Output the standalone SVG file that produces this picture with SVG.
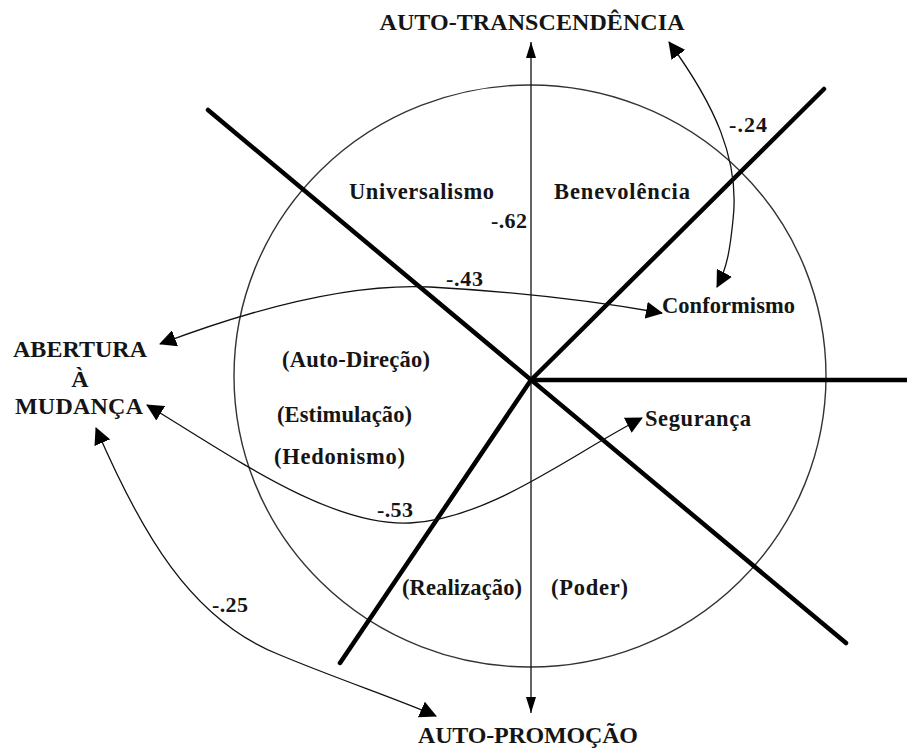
<svg xmlns="http://www.w3.org/2000/svg" width="907" height="749" viewBox="0 0 907 749">
<style>
.t{font-family:"Liberation Serif","Times New Roman",serif;font-weight:bold;fill:#151515}
.big{font-size:24px}
.lab{font-size:22.5px}
.num{font-size:22px}
.thick{stroke:#000;stroke-width:4.5;stroke-linecap:round;fill:none}
.thin{stroke:#111;stroke-width:1.3;fill:none}
</style>
<defs>
<marker id="ah" markerUnits="userSpaceOnUse" viewBox="0 0 17 17" markerWidth="17" markerHeight="17" refX="16" refY="8.5" orient="auto-start-reverse">
<path d="M0,0 L17,8.5 L0,17 z" fill="#000"/>
</marker>
<marker id="ax" markerUnits="userSpaceOnUse" viewBox="0 0 16 10" markerWidth="16" markerHeight="10" refX="16" refY="5" orient="auto-start-reverse">
<path d="M0,0 L16,5 L0,10 z" fill="#000"/>
</marker>
</defs>
<rect width="907" height="749" fill="#fff"/>
<g id="circle">
<ellipse cx="530" cy="376" rx="296" ry="291" fill="none" stroke="#333" stroke-width="1.4"/>
</g>
<g id="axes">
<line class="thin" x1="531" y1="42" x2="531" y2="713" marker-start="url(#ax)" marker-end="url(#ax)"/>
<line class="thick" x1="208" y1="110" x2="846" y2="643"/>
<line class="thick" x1="824" y1="89" x2="531" y2="380"/>
<line class="thick" x1="531" y1="380" x2="340" y2="663"/>
<line class="thick" x1="531" y1="380" x2="907" y2="380"/>
</g>
<g id="connectors">
<path class="thin" d="M669,42 C715,105 740,160 733,220 C730,250 727,268 717,287" marker-start="url(#ah)" marker-end="url(#ah)"/>
<path class="thin" d="M160,344 C250,310 350,283 430,287 C520,292 600,302 662,313" marker-start="url(#ah)" marker-end="url(#ah)"/>
<path class="thin" d="M147,405 C230,455 330,527 410,523 C490,519 570,455 642,418" marker-start="url(#ah)" marker-end="url(#ah)"/>
<path class="thin" d="M96,428 C140,530 190,620 280,655 C340,680 400,700 436,716" marker-start="url(#ah)" marker-end="url(#ah)"/>
</g>
<g id="auto-transcendencia"><text class="t big" x="532" y="30" text-anchor="middle" textLength="305">AUTO-TRANSCENDÊNCIA</text></g>
<g id="auto-promocao"><text class="t big" x="528" y="743" text-anchor="middle" textLength="220">AUTO-PROMOÇÃO</text></g>
<g id="abertura">
<text class="t big" x="80" y="357" text-anchor="middle" textLength="134">ABERTURA</text>
<text class="t big" x="80" y="387" text-anchor="middle">À</text>
<text class="t big" x="79" y="414" text-anchor="middle" textLength="128">MUDANÇA</text>
</g>
<g id="universalismo"><text class="t lab" x="349" y="199" textLength="145">Universalismo</text></g>
<g id="benevolencia"><text class="t lab" x="554" y="199" textLength="136">Benevolência</text></g>
<g id="conformismo"><text class="t lab" x="662" y="313" textLength="133">Conformismo</text></g>
<g id="seguranca"><text class="t lab" x="645" y="426" textLength="106">Segurança</text></g>
<g id="autodirecao"><text class="t lab" x="282" y="367" textLength="148">(Auto-Direção)</text></g>
<g id="estimulacao"><text class="t lab" x="277" y="422" textLength="135">(Estimulação)</text></g>
<g id="hedonismo"><text class="t lab" x="274" y="464" textLength="131">(Hedonismo)</text></g>
<g id="realizacao"><text class="t lab" x="402" y="595" textLength="120">(Realização)</text></g>
<g id="poder"><text class="t lab" x="551" y="595" textLength="77">(Poder)</text></g>
<g id="labels">
<text class="t num" x="491" y="228" textLength="36">-.62</text>
<text class="t num" x="446" y="286" textLength="37">-.43</text>
<text class="t num" x="729" y="132" textLength="38">-.24</text>
<text class="t num" x="377" y="517" textLength="36">-.53</text>
<text class="t num" x="212" y="612" textLength="36">-.25</text>
</g>
</svg>
